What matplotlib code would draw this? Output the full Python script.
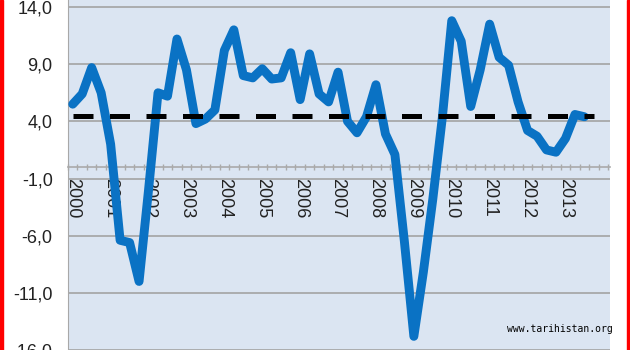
import numpy as np
import matplotlib
matplotlib.use("Agg")
import matplotlib.pyplot as plt
from matplotlib.patches import Rectangle
from matplotlib.ticker import FuncFormatter

# quarterly growth, 2000Q1 .. 2013Q3
growth = [5.5, 6.4, 8.7, 6.5, 2.0, -6.4, -6.6, -10.0,
          -2.0, 6.5, 6.2, 11.2, 8.5, 3.8, 4.2, 5.0,
          10.2, 12.0, 8.0, 7.8, 8.6, 7.7, 7.8, 10.0,
          5.9, 9.9, 6.4, 5.7, 8.3, 4.0, 3.0, 4.4,
          7.2, 2.9, 1.1, -6.5, -14.8, -9.2, -2.8, 4.3,
          12.8, 11.0, 5.3, 8.5, 12.5, 9.6, 8.9, 5.7,
          3.2, 2.7, 1.5, 1.3, 2.5, 4.6, 4.4]
average = 4.45
n_avg = 56
years = [str(y) for y in range(2000, 2014)]
yticks = [14, 9, 4, -1, -6, -11, -16]

plt.rcParams['font.family'] = ['Liberation Sans', 'DejaVu Sans']

fig = plt.figure(figsize=(6.3, 3.5), dpi=100)
ax = fig.add_axes([68 / 630, -0.01, 542 / 630, 1.01])
ax.set_facecolor('#dbe5f2')

x = np.arange(len(growth))
ax.plot(x, growth, color='#0a72c4', lw=6.4, solid_joinstyle='round',
        solid_capstyle='round', zorder=3)
xa = np.arange(n_avg)
ax.plot(xa, [average] * n_avg, color='black', lw=3.6, dashes=(4.0, 3.3),
        zorder=4)

ax.set_xlim(-0.45, 56.7)
ax.set_ylim(-16.3, 14.61)
ax.set_yticks(yticks)
ax.yaxis.set_major_formatter(FuncFormatter(lambda v, p: f"{v:.1f}".replace('.', ',')))
ax.grid(axis='y', color='#a3a3a3', lw=1.2)
ax.set_axisbelow(True)
ax.tick_params(axis='y', length=0, pad=11, labelsize=13, labelcolor='#222222')

ax.spines['bottom'].set_position(('data', 0))
ax.spines['bottom'].set_color('#aaaaaa')
ax.spines['bottom'].set_linewidth(1.2)
ax.spines['bottom'].set_zorder(2)
ax.spines['left'].set_color('#a8a8a8')
ax.spines['top'].set_visible(False)
ax.spines['right'].set_visible(False)

ax.set_xticks(np.arange(0, len(years) * 4, 4))
ax.set_xticklabels(years, rotation=270, ha='center', va='top')
ax.set_xticks(np.arange(-0.5, 56.6, 1), minor=True)
ax.tick_params(axis='x', which='major', length=0, pad=8, labelsize=13,
               labelcolor='#222222')
ax.tick_params(axis='x', which='minor', direction='inout', length=5,
               width=1, color='#aaaaaa')

# side borders
fig.patches.append(Rectangle((0, 0), 3 / 630, 1, transform=fig.transFigure,
                             color='#ff0000', zorder=10))
fig.patches.append(Rectangle((627 / 630, 0), 3 / 630, 1, transform=fig.transFigure,
                             color='#ff0000', zorder=10))

fig.text(507 / 630, 1 - 329 / 350, 'www.tarihistan.org', fontsize=7,
         family='DejaVu Sans Mono', color='black', va='center', ha='left')

fig.savefig('out.png', dpi=100, facecolor='white')
